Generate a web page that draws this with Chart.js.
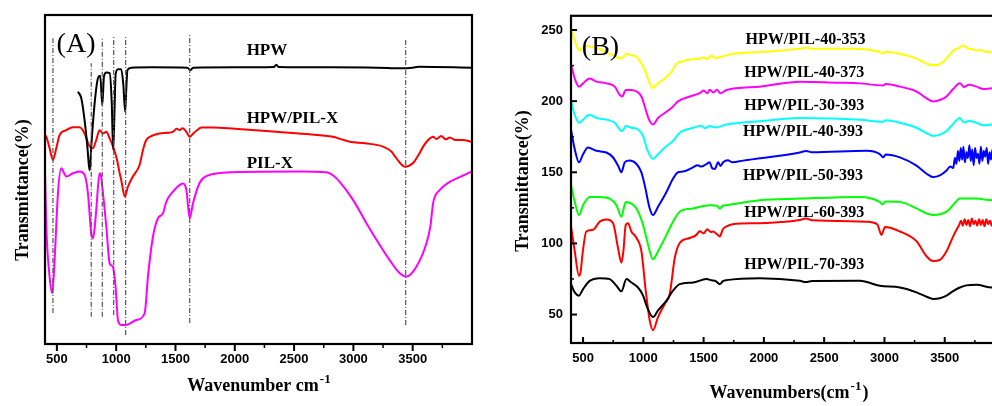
<!DOCTYPE html>
<html lang="en">
  <head>
    <meta charset="UTF-8" />
    <title>FTIR spectra (A) and (B)</title>
    <script src="https://cdn.jsdelivr.net/npm/chart.js@4.4.0/dist/chart.umd.min.js"></script>
    <style>
      body {
        margin: 0;
        width: 992px;
        height: 406px;
        overflow: hidden;
        position: relative;
        background: white;
      }
      #wrapA {
        position: absolute;
        left: 0;
        top: 0;
      }
      #wrapB {
        position: absolute;
        left: 500px;
        top: 0;
      }
    </style>
  </head>
  <body>
    <div id="wrapA"><canvas id="chartA" width="500" height="406"></canvas></div>
    <div id="wrapB"><canvas id="chartB" width="530" height="406"></canvas></div>

    <script>
      // ---------------- data (wavenumber, transmittance) ----------------
      // panel A (no y scale printed, values are relative 0-100)
      const hpwA = [[677,76.7],[706,74.7],[734,68],[757,60],[771,54],[778,52.8],[790,60],[818,73],[846,80.7],[866,81.5],[883,72.6],[897,81.2],[917,82.5],[945,82.3],[962,74],[975,59],[987,72],[995,81.8],[1015,83.5],[1043,83.5],[1060,79],[1076,70.6],[1086,78],[1095,83.3],[1128,84],[1300,84.1],[1600,84],[1625,83.2],[1650,84],[2000,84.1],[2330,84.2],[2350,84.9],[2370,84.2],[2800,84.1],[3200,84],[3400,83.8],[3500,84],[3550,84.3],[4000,84]];
      const hpwPilA = [[400,63.5],[411,63],[439,59.5],[467,56],[495,59.5],[523,63.5],[580,65],[635,65.9],[692,65.9],[734,64],[770,60.5],[804,59.5],[832,62],[860,65],[888,64],[917,64.5],[945,62.5],[979,59.5],[1007,56],[1029,52],[1043,49.8],[1073,44.8],[1099,47.8],[1141,50.9],[1198,54.5],[1226,59],[1254,62],[1296,63.2],[1367,64],[1430,64.2],[1479,64.5],[1510,65.4],[1535,65],[1560,65.6],[1592,64.5],[1620,63],[1650,64],[1676,64.8],[1720,65.8],[1815,65.8],[2000,65.4],[2350,64.5],[2600,63.8],[2828,63],[2900,62.2],[2969,61.5],[3100,61],[3250,60],[3320,58.5],[3363,56.4],[3433,53.9],[3503,55],[3550,57.5],[3588,60],[3630,62],[3672,63],[3700,62.3],[3740,63.2],[3780,62.2],[3813,62.8],[3860,62],[3920,62],[3996,61.5]];
      const pilA = [[400,52.4],[411,35.7],[440,20],[461,15.4],[481,25.5],[509,45.8],[537,53.4],[560,52],[580,50.9],[636,51.9],[692,52.4],[734,51.4],[762,45.8],[790,33.6],[804,32.1],[818,35],[832,40.7],[860,51.9],[870,51.5],[883,47.8],[917,35.7],[945,24.5],[965,23.8],[975,23.2],[995,17.4],[1015,7.3],[1043,5.8],[1085,5.8],[1170,7.3],[1240,9.3],[1268,20.5],[1310,32.6],[1352,38.2],[1394,39.7],[1423,43.3],[1479,46.3],[1563,48.8],[1592,46.8],[1620,38.2],[1648,42.8],[1704,49],[1760,51],[1984,52.2],[2547,52.4],[2772,52.2],[2830,51.2],[2885,49.3],[2997,43.8],[3110,36.7],[3222,30.1],[3306,25.5],[3391,21.5],[3447,20.5],[3531,23.5],[3616,30.6],[3650,36],[3672,42.8],[3728,46.8],[3813,49.3],[3900,50.8],[3996,52.4]];

      // dash-dot guide lines of panel A
      const guideWn = [467, 790, 883, 979, 1080, 1620, 3441];
      const guideTop = [92.9, 85.3, 93.4, 93.9, 93.9, 94.4, 92.4];
      const guideBottom = [9.4, 8.3, 8.3, 8.8, 2.7, 6.4, 5.8];

      // panel B
      const b40_353 = [[400,251],[431,242.6],[450,238],[472,235.6],[490,237],[514,239],[550,238.5],[583,238],[620,237],[666,235.6],[700,234],[749,232.2],[780,231],[804,230],[832,231],[860,233.3],[901,232.2],[940,231.5],[956,230],[984,226.4],[1020,220.6],[1047,213.7],[1070,210],[1080,209],[1095,210.5],[1122,212.5],[1178,216],[1233,220.6],[1275,226.4],[1320,227.8],[1358,228.7],[1410,229.5],[1468,229.9],[1500,230.8],[1530,229.5],[1560,232],[1578,231.5],[1600,230.2],[1640,231],[1690,232.2],[1750,233.3],[1966,234.5],[2298,236.8],[2350,237.5],[2400,236.8],[2740,236.8],[2962,234.5],[2990,233.5],[3010,234.8],[3128,233.3],[3266,229.9],[3349,226.4],[3404,225.2],[3450,225.8],[3487,227.6],[3530,231.5],[3570,235.6],[3610,237],[3653,239.1],[3690,237],[3730,236.5],[3764,235.6],[3800,235.8],[3850,234.5],[3891,234.5],[3950,234.3],[4000,234]];
      const b40_373 = [[400,226],[431,216],[466,210.2],[500,212.5],[555,216],[611,213.7],[694,212.5],[763,210.2],[804,204.4],[826,203.3],[854,207.9],[901,207.9],[943,206.8],[984,203.3],[1020,194],[1047,187],[1080,183.6],[1122,188.2],[1178,191.7],[1233,195.2],[1288,199.8],[1385,203.3],[1468,205.6],[1500,207.5],[1530,205.5],[1551,208],[1580,206],[1610,208],[1640,205.5],[1690,207.9],[1966,210.2],[2298,213.7],[2600,213],[2797,212.5],[2990,211],[3010,212],[3128,210.2],[3266,206.8],[3350,202],[3404,199.8],[3460,200.8],[3515,203.3],[3570,208.5],[3626,212.5],[3660,210],[3700,211.5],[3764,210.2],[3820,208.5],[3891,209],[4000,209]];
      const b30_393 = [[400,200],[431,190.5],[466,184.8],[500,187],[555,190.5],[611,188.2],[694,187],[763,184.8],[804,180.1],[826,179],[854,182.5],[901,181.3],[956,180.1],[998,175.5],[1031,166.2],[1080,159.3],[1122,162.7],[1178,167.4],[1246,172],[1302,177.8],[1413,181.3],[1480,182.8],[1510,181],[1551,182.5],[1600,181.5],[1690,183.6],[1966,185.9],[2298,188.2],[2797,187],[2990,185.5],[3010,186.5],[3128,184.8],[3266,181.3],[3350,177.5],[3404,175.5],[3460,176.5],[3515,179],[3570,184],[3626,188.2],[3660,185],[3700,186],[3764,184.8],[3820,183],[3891,183.6],[4000,183.6]];
      const b40_393 = [[400,180],[431,166.2],[466,157],[500,162.7],[541,167.4],[611,165.1],[694,163.9],[749,160.4],[790,154.7],[818,150],[846,157],[887,158.2],[943,155.8],[984,150],[1012,140.8],[1053,124.6],[1080,120],[1122,125.8],[1192,136.2],[1246,145.4],[1288,150],[1330,150.5],[1413,153.5],[1450,155],[1480,154],[1523,155.8],[1550,157],[1570,153],[1593,152.3],[1620,157],[1640,154.5],[1662,157],[1700,158.5],[1740,157],[1828,158.2],[2298,163.9],[2350,165],[2400,164],[2851,165.1],[2962,162.8],[2990,160.5],[3010,162.5],[3128,160.5],[3266,154.7],[3350,149],[3404,146.6],[3460,147.8],[3515,151.2],[3545,154],[3570,153],[3585,160],[3597,156],[3610,165],[3622,158],[3633,167],[3645,159],[3655,168],[3667,157],[3680,164],[3692,160],[3705,169],[3716,158],[3728,166],[3740,155],[3752,167],[3764,160],[3776,163],[3788,156],[3800,168],[3812,158],[3824,165],[3836,161],[3848,167],[3860,156],[3872,164],[3884,159],[3896,166],[3908,154],[3920,163],[3932,158],[3944,167],[3956,157],[3968,163],[3980,159],[3992,165],[4000,160]];
      const b50_393 = [[400,141],[431,129.2],[466,120],[500,126.9],[555,132.7],[638,132.7],[721,131.5],[777,126.9],[818,118.8],[854,129.2],[901,128],[943,124.6],[998,113],[1039,99.2],[1080,88.8],[1122,94.5],[1192,106],[1246,115.3],[1302,122.3],[1413,124.6],[1551,126.9],[1610,126.5],[1634,124.5],[1660,126.5],[1690,126.9],[1966,130.4],[2298,131.5],[2797,132.7],[2962,129.2],[2985,127.5],[3010,129.5],[3128,129.2],[3266,124.6],[3350,121],[3404,120],[3460,120.5],[3515,122.3],[3570,127],[3626,131.5],[3764,131.5],[3891,130.4],[4000,130.4]];
      const b60_393 = [[400,112],[431,94.5],[466,77.2],[480,80],[495,92.2],[527,108.4],[583,109.6],[638,115.3],[694,116.9],[749,114.2],[790,96.8],[818,86.4],[835,95],[854,113],[873,114.2],[901,108.4],[943,103.8],[984,94.5],[1020,66.7],[1053,45.9],[1080,39],[1122,48.2],[1178,57.5],[1219,64.4],[1261,89.9],[1302,100.3],[1385,103.8],[1440,106],[1468,108.6],[1500,107],[1530,110],[1560,108],[1578,108.4],[1610,106.5],[1634,104.9],[1660,110],[1690,111.9],[1740,113.5],[1966,114.2],[2298,116.5],[2350,117.5],[2400,116.2],[2851,115.3],[2940,113.5],[2975,106],[3005,111.5],[3128,108.4],[3266,101.5],[3349,91],[3404,87.6],[3460,88.5],[3515,94.5],[3570,105],[3600,110],[3620,113],[3635,116],[3650,112.5],[3665,117],[3680,113],[3695,116.5],[3710,112],[3725,117.5],[3740,113.5],[3755,116],[3770,112.5],[3785,117],[3800,113],[3815,116.5],[3830,112],[3845,117],[3860,113.5],[3875,116],[3890,112.5],[3905,116.5],[3920,113],[3935,116],[3950,112.5],[3965,115.5],[3980,113],[4000,114.5]];
      const b70_393 = [[400,71.4],[431,65.6],[466,63.3],[500,67.9],[555,73.7],[638,75.6],[721,74.9],[777,70.2],[818,66.3],[860,74.9],[901,72.5],[956,69],[998,63.3],[1031,55.2],[1080,48.2],[1122,52.9],[1192,59.8],[1246,66.8],[1302,71.4],[1413,72.5],[1523,74.9],[1570,74],[1600,73.5],[1634,71.4],[1660,73.5],[1690,74.2],[1966,75.6],[2298,73.7],[2350,72.8],[2400,73.6],[2797,73.7],[2962,70.2],[3128,69],[3266,65.6],[3350,62.5],[3404,61],[3460,61.5],[3515,63.3],[3570,66.5],[3626,69],[3680,70.5],[3764,70.9],[3891,69],[4000,69]];

      // ticks
      const wnMajor = [500, 1000, 1500, 2000, 2500, 3000, 3500];
      const wnMinor = [750, 1250, 1750, 2250, 2750, 3250, 3750];
      const tMajorB = [50, 100, 150, 200, 250];
      const tMinorB = [75, 125, 175, 225];

      // labels
      const namesA = ["HPW", "HPW/PIL-X", "PIL-X"];
      const namesB = ["HPW/PIL-40-353", "HPW/PIL-40-373", "HPW/PIL-30-393", "HPW/PIL-40-393", "HPW/PIL-50-393", "HPW/PIL-60-393", "HPW/PIL-70-393"];

      // ---------------- helpers ----------------
      const toXY = (pairs) => pairs.map(([x, y]) => ({ x: x, y: y }));

      function line(data, color) {
        return {
          data: toXY(data),
          borderColor: color,
          borderWidth: 2,
          pointRadius: 0,
          cubicInterpolationMode: "monotone",
          fill: false,
        };
      }

      // frame + tick marks + texts (config kept in a closure, not in chart options)
      function makeDeco(cfg) {
        return {
          id: "deco",
          afterDraw(chart) {
            const { ctx, chartArea: a, scales } = chart;
            ctx.save();
            ctx.strokeStyle = "#000";
            ctx.lineCap = "butt";
            cfg.marks.forEach((t) => {
              const s = scales[t.axis];
              ctx.lineWidth = t.width;
              t.values.forEach((v) => {
                const p = s.getPixelForValue(v);
                ctx.beginPath();
                if (t.axis === "x") {
                  ctx.moveTo(p, a.bottom);
                  ctx.lineTo(p, a.bottom + t.len);
                } else {
                  ctx.moveTo(a.left, p);
                  ctx.lineTo(a.left - t.len, p);
                }
                ctx.stroke();
              });
            });
            ctx.lineWidth = 2.2;
            ctx.strokeRect(a.left, a.top, a.right - a.left, a.bottom - a.top);

            // series names and panel letter
            ctx.fillStyle = "#000";
            ctx.textBaseline = "middle";
            cfg.notes.forEach((n) => {
              ctx.font = n.font;
              ctx.textAlign = n.align;
              ctx.fillText(n.text, scales.x.getPixelForValue(n.x), scales.y.getPixelForValue(n.y));
            });

            // x title with superscript
            const xt = cfg.xTitle;
            ctx.textAlign = "left";
            ctx.textBaseline = "alphabetic";
            ctx.font = xt.font;
            const w1 = ctx.measureText(xt.text).width;
            const w3 = ctx.measureText(xt.tail).width;
            ctx.font = xt.supFont;
            const w2 = ctx.measureText(xt.sup).width;
            const cx = (a.left + a.right) / 2 - (w1 + w2 + w3) / 2;
            ctx.font = xt.font;
            ctx.fillText(xt.text, cx, xt.y);
            ctx.font = xt.supFont;
            ctx.fillText(xt.sup, cx + w1 + 1, xt.y - 8);
            ctx.font = xt.font;
            ctx.fillText(xt.tail, cx + w1 + w2 + 2, xt.y);

            // y title
            const yt = cfg.yTitle;
            ctx.translate(yt.x, yt.y);
            ctx.rotate(-Math.PI / 2);
            ctx.textAlign = "center";
            ctx.textBaseline = "middle";
            ctx.font = yt.font;
            ctx.fillText(yt.text, 0, 0);
            ctx.restore();
          },
        };
      }

      const tickFont = { family: "'Liberation Sans', Arial, sans-serif", size: 13, weight: "bold" };
      const plainLabel = (v) => String(v);

      // ---------------- panel A ----------------
      const guideSets = guideWn.map((wn, i) => ({
        data: [{ x: wn, y: guideBottom[i] }, { x: wn, y: guideTop[i] }],
        borderColor: "#555",
        borderWidth: 1.2,
        borderDash: [5, 2, 1, 2],
        pointRadius: 0,
        tension: 0,
      }));

      new Chart(document.getElementById("chartA"), {
        type: "line",
        data: {
          datasets: [
            ...guideSets,
            line(hpwA, "#000000"),
            line(hpwPilA, "#ff0000"),
            line(pilA, "#ff00ff"),
          ],
        },
        options: {
          responsive: false,
          animation: false,
          events: [],
          layout: { padding: { top: 15, right: 28, left: 0, bottom: 0 } },
          plugins: { legend: { display: false }, tooltip: { enabled: false } },
          scales: {
            x: {
              type: "linear",
              min: 400,
              max: 4000,
              grid: { display: false, drawTicks: false },
              border: { display: false },
              afterBuildTicks: (s) => { s.ticks = wnMajor.map((v) => ({ value: v })); },
              afterFit: (s) => { s.height = 62; },
              ticks: { color: "#000", font: tickFont, padding: 8, maxRotation: 0, callback: plainLabel },
            },
            y: {
              min: 0,
              max: 100,
              grid: { display: false, drawTicks: false },
              border: { display: false },
              ticks: { display: false },
              afterFit: (s) => { s.width = 45; },
            },
          },
        },
        plugins: [
          makeDeco({
            marks: [
              { axis: "x", values: wnMajor, len: 7, width: 2 },
              { axis: "x", values: wnMinor, len: 4, width: 1.5 },
            ],
            notes: [
              { text: "(A)", x: 498, y: 90.9, font: "28px 'Liberation Serif'", align: "left" },
              { text: namesA[0], x: 2100, y: 89.1, font: "bold 17px 'Liberation Serif'", align: "left" },
              { text: namesA[1], x: 2100, y: 68.5, font: "bold 17px 'Liberation Serif'", align: "left" },
              { text: namesA[2], x: 2100, y: 54.9, font: "bold 17px 'Liberation Serif'", align: "left" },
            ],
            xTitle: { text: "Wavenumber cm", sup: "-1", tail: "", y: 391, font: "bold 18px 'Liberation Serif'", supFont: "bold 13px 'Liberation Serif'" },
            yTitle: { text: "Transmittance(%)", x: 23, y: 190, font: "bold 18px 'Liberation Serif'" },
          }),
        ],
      });

      // ---------------- panel B ----------------
      new Chart(document.getElementById("chartB"), {
        type: "line",
        data: {
          datasets: [
            line(b70_393, "#000000"),
            line(b60_393, "#ff0000"),
            line(b50_393, "#00ff00"),
            line(b40_393, "#0000ff"),
            line(b30_393, "#00ffff"),
            line(b40_373, "#ff00ff"),
            line(b40_353, "#ffff00"),
          ],
        },
        options: {
          responsive: false,
          animation: false,
          events: [],
          layout: { padding: { top: 12, right: 25, left: 0, bottom: 0 } },
          plugins: { legend: { display: false }, tooltip: { enabled: false } },
          scales: {
            x: {
              type: "linear",
              min: 400,
              max: 4000,
              grid: { display: false, drawTicks: false },
              border: { display: false },
              afterBuildTicks: (s) => { s.ticks = wnMajor.map((v) => ({ value: v })); },
              afterFit: (s) => { s.height = 63; },
              ticks: { color: "#000", font: tickFont, padding: 8, maxRotation: 0, callback: plainLabel },
            },
            y: {
              min: 30,
              max: 260,
              grid: { display: false, drawTicks: false },
              border: { display: false },
              afterBuildTicks: (s) => { s.ticks = tMajorB.map((v) => ({ value: v })); },
              afterFit: (s) => { s.width = 71; },
              ticks: { color: "#000", font: tickFont, padding: 8, callback: plainLabel },
            },
          },
        },
        plugins: [
          makeDeco({
            marks: [
              { axis: "x", values: wnMajor, len: -6, width: 2 },
              { axis: "x", values: wnMinor, len: -3, width: 1.5 },
              { axis: "y", values: tMajorB, len: -6, width: 2 },
              { axis: "y", values: tMinorB, len: -3, width: 1.5 },
            ],
            notes: [
              { text: "(B)", x: 490, y: 237.5, font: "28px 'Liberation Serif'", align: "left" },
              { text: namesB[0], x: 2345, y: 243, font: "bold 16px 'Liberation Serif'", align: "center" },
              { text: namesB[1], x: 2335, y: 220.2, font: "bold 16px 'Liberation Serif'", align: "center" },
              { text: namesB[2], x: 2335, y: 196.9, font: "bold 16px 'Liberation Serif'", align: "center" },
              { text: namesB[3], x: 2325, y: 178.2, font: "bold 16px 'Liberation Serif'", align: "center" },
              { text: namesB[4], x: 2325, y: 147.3, font: "bold 16px 'Liberation Serif'", align: "center" },
              { text: namesB[5], x: 2335, y: 121.6, font: "bold 16px 'Liberation Serif'", align: "center" },
              { text: namesB[6], x: 2335, y: 84.8, font: "bold 16px 'Liberation Serif'", align: "center" },
            ],
            xTitle: { text: "Wavenumbers(cm", sup: "-1", tail: ")", y: 398, font: "bold 18px 'Liberation Serif'", supFont: "bold 13px 'Liberation Serif'" },
            yTitle: { text: "Transmittance(%)", x: 23, y: 181, font: "bold 18px 'Liberation Serif'" },
          }),
        ],
      });
    </script>
  </body>
</html>
